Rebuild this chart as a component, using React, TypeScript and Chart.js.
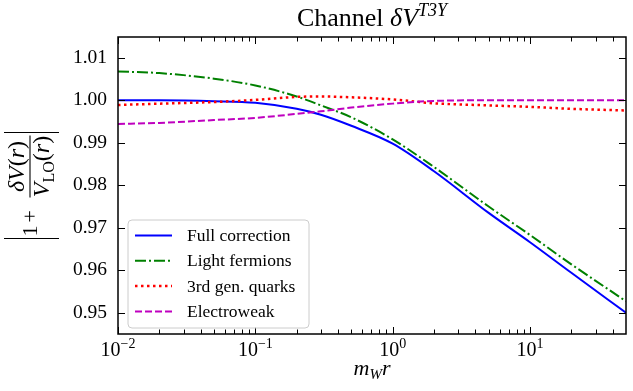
import React, { useEffect, useRef } from "react";
import { Chart, registerables } from "chart.js";

Chart.register(...registerables);

// ---- data ----
const X_VALUES = [0.01, 0.02, 0.05, 0.1, 0.2, 0.3, 0.5, 1, 2, 5, 10, 20, 50];
const FULL_CORRECTION = [1.0, 1.0, 0.9998, 0.9994, 0.998, 0.9966, 0.994, 0.9898, 0.9833, 0.9735, 0.9666, 0.9594, 0.95];
const LIGHT_FERMIONS = [1.0068, 1.0064, 1.0051, 1.0035, 1.0009, 0.9988, 0.996, 0.9908, 0.9843, 0.975, 0.9683, 0.9614, 0.9527];
const THIRD_GEN_QUARKS = [0.9989, 0.9992, 0.9996, 1.0001, 1.0008, 1.0009, 1.0007, 1.0002, 0.9993, 0.9988, 0.99845, 0.998, 0.9976];
const ELECTROWEAK = [0.99445, 0.99468, 0.99535, 0.99586, 0.9968, 0.99741, 0.99828, 0.99922, 0.99986, 1.0, 1.0, 1.0, 1.0];

const SERIES_LABELS = ["Full correction", "Light fermions", "3rd gen. quarks", "Electroweak"];
const Y_TICKS = [0.95, 0.96, 0.97, 0.98, 0.99, 1.0, 1.01];
const X_MAJOR_TICKS = [0.01, 0.1, 1, 10];
const X_TICK_EXPONENTS = ["\u22122", "\u22121", "0", "1"];
const X_MIN = 0.01;
const X_MAX = 50;
const Y_MIN = 0.945;
const Y_MAX = 1.0149;

const SERIF = '"Liberation Serif", "DejaVu Serif", serif';
const up = (s: number) => `${s}px ${SERIF}`;
const it = (s: number) => `italic ${s}px ${SERIF}`;

type Run = { t: string; f: string; dy?: number };

function runsWidth(ctx: CanvasRenderingContext2D, runs: Run[]) {
  let w = 0;
  for (const r of runs) {
    ctx.font = r.f;
    w += ctx.measureText(r.t).width;
  }
  return w;
}

function drawRuns(ctx: CanvasRenderingContext2D, runs: Run[], x: number, y: number) {
  let cx = x;
  for (const r of runs) {
    ctx.font = r.f;
    ctx.fillText(r.t, cx, y + (r.dy || 0));
    cx += ctx.measureText(r.t).width;
  }
}

function drawRunsCentered(ctx: CanvasRenderingContext2D, runs: Run[], cx: number, y: number) {
  const w = runsWidth(ctx, runs);
  drawRuns(ctx, runs, cx - w / 2, y);
}

const decorPlugin = {
  id: "decor",
  afterDraw(chart: any) {
    const ctx: CanvasRenderingContext2D = chart.ctx;
    const { left, right, top, bottom } = chart.chartArea;
    const xs = chart.scales.x;
    const ys = chart.scales.y;
    ctx.save();
    ctx.fillStyle = "#000";
    ctx.strokeStyle = "#000";
    ctx.textAlign = "left";
    ctx.textBaseline = "alphabetic";

    // inward ticks
    ctx.lineWidth = 1;
    ctx.beginPath();
    for (const v of Y_TICKS) {
      const py = Math.round(ys.getPixelForValue(v)) + 0.5;
      ctx.moveTo(left, py);
      ctx.lineTo(left + 7, py);
      ctx.moveTo(right, py);
      ctx.lineTo(right - 7, py);
    }
    for (const m of X_MAJOR_TICKS) {
      for (let k = 1; k <= 9; k++) {
        const v = k * m;
        if (v < X_MIN || v > X_MAX * 0.999) continue;
        const px = Math.round(xs.getPixelForValue(v)) + 0.5;
        const len = k === 1 ? 7 : 4.5;
        ctx.moveTo(px, bottom);
        ctx.lineTo(px, bottom - len);
        ctx.moveTo(px, top);
        ctx.lineTo(px, top + len);
      }
    }
    ctx.stroke();

    // frame
    ctx.lineWidth = 1.5;
    ctx.strokeRect(left, top, right - left, bottom - top);

    // x tick labels
    X_MAJOR_TICKS.forEach((m, i) => {
      const px = xs.getPixelForValue(m);
      drawRunsCentered(
        ctx,
        [
          { t: "10", f: up(20) },
          { t: X_TICK_EXPONENTS[i], f: up(14), dy: -8 },
        ],
        px,
        356
      );
    });

    // x axis title
    drawRunsCentered(
      ctx,
      [
        { t: "m", f: it(22) },
        { t: "W", f: it(15), dy: 4 },
        { t: "r", f: it(22) },
      ],
      (left + right) / 2,
      375
    );

    // title
    drawRunsCentered(
      ctx,
      [
        { t: "Channel ", f: up(26) },
        { t: "\u03b4V", f: it(26) },
        { t: "T3Y", f: it(18), dy: -10 },
      ],
      (left + right) / 2,
      26
    );

    // y axis title (rotated)
    ctx.save();
    ctx.translate(30, (top + bottom) / 2);
    ctx.rotate(-Math.PI / 2);
    ctx.lineWidth = 1.1;
    ctx.beginPath();
    ctx.moveTo(-53, -26);
    ctx.lineTo(-53, 29);
    ctx.moveTo(53, -26);
    ctx.lineTo(53, 29);
    ctx.moveTo(-12, 0);
    ctx.lineTo(50, 0);
    ctx.stroke();
    drawRuns(ctx, [{ t: "1", f: up(22) }], -51, 7);
    drawRuns(ctx, [{ t: "+", f: up(22) }], -37, 7);
    drawRunsCentered(
      ctx,
      [
        { t: "\u03b4V", f: it(24) },
        { t: "(", f: up(24) },
        { t: "r", f: it(24) },
        { t: ")", f: up(24) },
      ],
      19,
      -6
    );
    drawRunsCentered(
      ctx,
      [
        { t: "V", f: it(24) },
        { t: "LO", f: up(16), dy: 5 },
        { t: "(", f: up(24) },
        { t: "r", f: it(24) },
        { t: ")", f: up(24) },
      ],
      19,
      19
    );
    ctx.restore();

    // legend
    const bx = 128, by = 220, bw = 181, bh = 108, rad = 4;
    ctx.beginPath();
    ctx.moveTo(bx + rad, by);
    ctx.lineTo(bx + bw - rad, by);
    ctx.quadraticCurveTo(bx + bw, by, bx + bw, by + rad);
    ctx.lineTo(bx + bw, by + bh - rad);
    ctx.quadraticCurveTo(bx + bw, by + bh, bx + bw - rad, by + bh);
    ctx.lineTo(bx + rad, by + bh);
    ctx.quadraticCurveTo(bx, by + bh, bx, by + bh - rad);
    ctx.lineTo(bx, by + rad);
    ctx.quadraticCurveTo(bx, by, bx + rad, by);
    ctx.closePath();
    ctx.fillStyle = "rgba(255,255,255,0.8)";
    ctx.fill();
    ctx.strokeStyle = "#cccccc";
    ctx.lineWidth = 1;
    ctx.stroke();

    chart.data.datasets.forEach((ds: any, i: number) => {
      const yc = 235.5 + i * 25.3;
      ctx.save();
      ctx.strokeStyle = ds.borderColor;
      ctx.lineWidth = ds.borderWidth;
      ctx.setLineDash(ds.borderDash || []);
      ctx.beginPath();
      ctx.moveTo(135, yc);
      ctx.lineTo(172, yc);
      ctx.stroke();
      ctx.restore();
      ctx.fillStyle = "#000";
      ctx.font = up(17.5);
      ctx.textBaseline = "middle";
      ctx.fillText(ds.label, 187, yc + 1);
      ctx.textBaseline = "alphabetic";
    });

    ctx.restore();
  },
};

const toPoints = (ys: number[]) => X_VALUES.map((x, i) => ({ x, y: ys[i] }));

export default function App() {
  const ref = useRef<HTMLCanvasElement>(null);

  useEffect(() => {
    const canvas = ref.current;
    if (!canvas) return;
    const common = {
      pointRadius: 0,
      fill: false,
      cubicInterpolationMode: "monotone" as const,
    };
    const chart = new Chart(canvas, {
      type: "line",
      data: {
        datasets: [
          {
            ...common,
            label: SERIES_LABELS[0],
            data: toPoints(FULL_CORRECTION),
            borderColor: "#0000ff",
            borderWidth: 2,
            borderDash: [],
            order: 3,
          },
          {
            ...common,
            label: SERIES_LABELS[1],
            data: toPoints(LIGHT_FERMIONS),
            borderColor: "#008000",
            borderWidth: 2,
            borderDash: [11, 3, 2, 3],
            order: 2,
          },
          {
            ...common,
            label: SERIES_LABELS[2],
            data: toPoints(THIRD_GEN_QUARKS),
            borderColor: "#ff0000",
            borderWidth: 2.5,
            borderDash: [2.5, 3.5],
            order: 1,
          },
          {
            ...common,
            label: SERIES_LABELS[3],
            data: toPoints(ELECTROWEAK),
            borderColor: "#bf00bf",
            borderWidth: 2,
            borderDash: [7, 3],
            order: 0,
          },
        ],
      },
      options: {
        responsive: false,
        animation: false,
        devicePixelRatio: 1,
        layout: { padding: { top: 37, right: 7, left: 0, bottom: 0 } },
        plugins: {
          legend: { display: false },
          tooltip: { enabled: false },
          title: { display: false },
        },
        scales: {
          x: {
            type: "logarithmic",
            min: X_MIN,
            max: X_MAX,
            grid: { display: false, drawTicks: false },
            border: { display: false },
            ticks: { display: false },
            afterFit: (s: any) => {
              s.height = 57;
            },
          },
          y: {
            type: "linear",
            min: Y_MIN,
            max: Y_MAX,
            grid: { display: false, drawTicks: false },
            border: { display: false },
            afterBuildTicks: (s: any) => {
              s.ticks = Y_TICKS.map((v) => ({ value: v }));
            },
            ticks: {
              color: "#000",
              padding: 11,
              font: { family: SERIF, size: 19.5 },
              callback: (v: any) => Number(v).toFixed(2),
            },
            afterFit: (s: any) => {
              s.width = 118;
            },
          },
        },
      },
      plugins: [decorPlugin],
    } as any);
    return () => chart.destroy();
  }, []);

  return (
    <div style={{ position: "fixed", left: 0, top: 0, width: 633, height: 391, background: "#fff" }}>
      <canvas ref={ref} width={633} height={391} style={{ display: "block", width: 633, height: 391 }} />
    </div>
  );
}
